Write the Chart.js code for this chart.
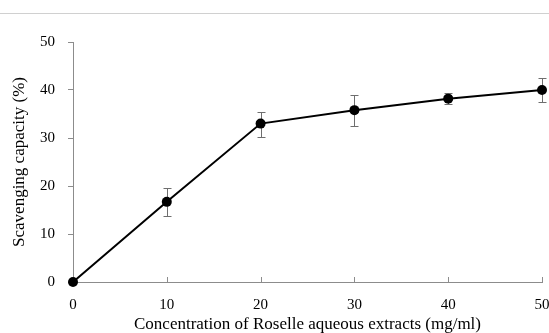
<!DOCTYPE html>
<html>
<head>
<meta charset="utf-8">
<script src="https://cdn.jsdelivr.net/npm/chart.js@4.4.1/dist/chart.umd.min.js"></script>
<style>
  html, body { margin: 0; padding: 0; background: #fff; }
  #wrap { position: relative; width: 549px; height: 333px; }
  #topline { position: absolute; left: 0; top: 13px; width: 549px; height: 1px; background: #d0d0d0; }
</style>
</head>
<body>
<div id="wrap">
  <div id="topline"></div>
  <canvas id="chart" width="549" height="333"></canvas>
</div>
<script>
// Werte
const concentration = [0, 10, 20, 30, 40, 50];
const scavenging = [0, 16.7, 33.0, 35.8, 38.2, 40.0];
const errLow = [0, 13.8, 30.3, 32.6, 37.1, 37.6];
const errHigh = [0, 19.5, 35.5, 39.0, 39.4, 42.6];

const xTitle = 'Concentration of Roselle aqueous extracts (mg/ml)';
const yTitle = 'Scavenging capacity (%)';

const axisColor = '#8c8c8c';
const family = '"Liberation Serif", "Times New Roman", serif';
const tickFont = { family: family, size: 15 };
const titleFont = { family: family, size: 17, lineHeight: 1 };

// Fehlerbalken und nach innen zeigende x-Ticks
const errorBars = {
  id: 'errorBars',
  beforeDatasetsDraw(chart) {
    const ctx = chart.ctx;
    const xs = chart.scales.x, ys = chart.scales.y;
    ctx.save();
    ctx.strokeStyle = '#6e6e6e';
    ctx.lineWidth = 1;
    for (let i = 0; i < concentration.length; i++) {
      if (errHigh[i] === errLow[i]) continue;
      const px = Math.round(xs.getPixelForValue(concentration[i])) + 0.5;
      const top = Math.round(ys.getPixelForValue(errHigh[i])) + 0.5;
      const bot = Math.round(ys.getPixelForValue(errLow[i])) + 0.5;
      ctx.beginPath();
      ctx.moveTo(px, top); ctx.lineTo(px, bot);
      ctx.moveTo(px - 4, top); ctx.lineTo(px + 4, top);
      ctx.moveTo(px - 4, bot); ctx.lineTo(px + 4, bot);
      ctx.stroke();
    }
    // x-Ticks nach oben
    ctx.strokeStyle = axisColor;
    const yb = ys.bottom;
    xs.ticks.forEach(t => {
      const px = Math.round(xs.getPixelForValue(t.value)) + 0.5;
      ctx.beginPath();
      ctx.moveTo(px, yb); ctx.lineTo(px, yb - 5);
      ctx.stroke();
    });
    ctx.restore();
  }
};

new Chart(document.getElementById('chart'), {
  type: 'line',
  data: {
    datasets: [{
      data: concentration.map((c, i) => ({ x: c, y: scavenging[i] })),
      borderColor: '#000',
      backgroundColor: '#000',
      borderWidth: 2,
      pointRadius: 5,
      pointHoverRadius: 5,
      pointBackgroundColor: '#000',
      pointBorderWidth: 0,
      tension: 0,
      clip: false
    }]
  },
  options: {
    responsive: false,
    animation: false,
    layout: { padding: { top: 42, right: 7, left: 0, bottom: 0 } },
    plugins: { legend: { display: false }, tooltip: { enabled: false } },
    scales: {
      x: {
        type: 'linear',
        min: 0, max: 50,
        ticks: { stepSize: 10, color: '#000', font: tickFont, padding: 14, maxRotation: 0 },
        grid: { display: false, drawTicks: false },
        border: { display: true, color: axisColor, width: 1 },
        title: { display: true, text: xTitle, color: '#000', font: titleFont, padding: { top: 0, bottom: 0 } },
        afterFit(scale) {
          scale.height = 51;
          scale.paddingLeft = 0;
          scale.paddingRight = 0;
        }
      },
      y: {
        min: 0, max: 50,
        ticks: { stepSize: 10, color: '#000', font: tickFont, padding: 13 },
        grid: { drawOnChartArea: false, tickLength: 5, color: axisColor },
        border: { display: true, color: axisColor, width: 1 },
        title: { display: true, text: yTitle, color: '#000', font: titleFont, padding: { top: 11, bottom: 0 } },
        afterFit(scale) {
          scale.width = 73;
          scale.paddingTop = 0;
          scale.paddingBottom = 0;
        }
      }
    }
  },
  plugins: [errorBars]
});
</script>
</body>
</html>
